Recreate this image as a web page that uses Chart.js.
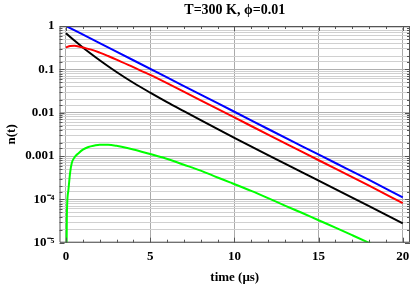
<!DOCTYPE html>
<html>
<head>
<meta charset="utf-8">
<script src="https://cdn.jsdelivr.net/npm/chart.js@4.4.0/dist/chart.umd.min.js"></script>
<style>
html,body{margin:0;padding:0;background:#fff;}
#wrap{width:417px;height:289px;position:relative;}
</style>
</head>
<body>
<div id="wrap"><canvas id="c" width="417" height="289"></canvas></div>
<script>
// ---- data ----
const title = "T=300 K, \u03D5=0.01";
const xTitle = "time (\u03BCs)";
const yTitle = "n(t)";
const xTicks = [0, 5, 10, 15, 20];
const yTickLabels = ["10\u207B\u2075", "10\u207B\u2074", "0.001", "0.01", "0.1", "1"]; // decades 1e-5 .. 1

const blueT = [0, 2, 4, 6, 8, 10, 12, 14, 16, 18, 20];
const blueN = [1, 0.402, 0.162, 0.065, 0.026, 0.0105, 0.0042, 0.0017, 0.00069, 0.00028, 0.000111];

const redT = [0, 0.25, 0.5, 0.75, 1, 1.5, 2, 2.5, 3, 4, 5, 6, 8, 10, 12, 14, 16, 18, 20];
const redN = [0.32, 0.345, 0.348, 0.338, 0.318, 0.285, 0.243, 0.203, 0.168, 0.112, 0.0745, 0.048, 0.0192, 0.0078, 0.0031, 0.00126, 0.00051, 0.000207, 0.000082];

const blackT = [0, 0.5, 1, 1.5, 2, 2.5, 3, 4, 5, 6, 7, 8, 10, 12, 14, 16, 18, 20];
const blackN = [0.68, 0.463, 0.32, 0.226, 0.162, 0.118, 0.087, 0.049, 0.029, 0.0175, 0.0108, 0.0067, 0.00263, 0.00105, 0.000425, 0.000172, 0.00007, 0.0000278];

const greenT = [0, 0.05, 0.14, 0.24, 0.34, 0.53, 0.73, 1, 1.33, 1.7, 2, 2.5, 3, 3.3, 4, 5, 5.88, 7, 8, 9, 9.74, 11, 12, 13, 14, 15, 16, 17, 18, 19, 20];
const greenN = [1e-7, 4e-5, 1.6e-4, 4e-4, 6.8e-4, 9.6e-4, 1.15e-3, 1.4e-3, 1.62e-3, 1.75e-3, 1.82e-3, 1.81e-3, 1.72e-3, 1.64e-3, 1.42e-3, 1.11e-3, 8.9e-4, 6.3e-4, 4.6e-4, 3.2e-4, 2.47e-4, 1.57e-4, 1.07e-4, 7.2e-5, 4.9e-5, 3.3e-5, 2.23e-5, 1.49e-5, 9.9e-6, 6.5e-6, 4.2e-6];

const pts = (t, n) => t.map((v, i) => ({x: v, y: n[i]}));

const FONT = "'Liberation Serif', 'Times New Roman', serif";

function isDecade(v) {
  const l = Math.log10(v);
  return Math.abs(l - Math.round(l)) < 1e-6;
}

const framePlugin = {
  id: 'frame',
  afterDatasetsDraw(chart) {
    const ctx = chart.ctx, a = chart.chartArea;
    const xs = chart.scales.x, ys = chart.scales.y;
    ctx.save();
    ctx.strokeStyle = '#555';
    ctx.lineWidth = 1;
    ctx.beginPath();
    ctx.rect(a.left + 0.5, a.top + 0.5, a.right - a.left - 1, a.bottom - a.top - 1);
    ctx.stroke();
    ctx.beginPath();
    for (let t = 0; t <= 20; t++) {
      const px = Math.round(xs.getPixelForValue(t)) + 0.5;
      const len = (t % 5 === 0) ? 5 : 3;
      ctx.moveTo(px, a.bottom); ctx.lineTo(px, a.bottom - len);
      ctx.moveTo(px, a.top); ctx.lineTo(px, a.top + len);
    }
    ys.ticks.forEach(tk => {
      const py = Math.round(ys.getPixelForValue(tk.value)) + 0.5;
      const len = isDecade(tk.value) ? 5 : 3;
      ctx.moveTo(a.left, py); ctx.lineTo(a.left + len, py);
      ctx.moveTo(a.right, py); ctx.lineTo(a.right - len, py);
    });
    ctx.stroke();
    ctx.restore();
  }
};

const ds = (label, data, color) => ({
  label, data, borderColor: color, backgroundColor: color,
  borderWidth: 2, pointRadius: 0, showLine: true, fill: false,
  cubicInterpolationMode: 'monotone'
});

new Chart(document.getElementById('c'), {
  type: 'scatter',
  data: {
    datasets: [
      ds('blue', pts(blueT, blueN), '#0000ff'),
      ds('red', pts(redT, redN), '#ff0000'),
      ds('black', pts(blackT, blackN), '#000000'),
      ds('green', pts(greenT, greenN), '#00ff00')
    ]
  },
  options: {
    responsive: false,
    animation: false,
    devicePixelRatio: 1,
    layout: {padding: {left: 0, right: 7, top: 0, bottom: 0}},
    plugins: {
      legend: {display: false},
      tooltip: {enabled: false},
      title: {
        display: true, text: title, color: '#000', fullSize: false,
        font: {family: FONT, size: 14, weight: 'bold', lineHeight: 1.2},
        padding: {top: 2, bottom: 7.2}
      }
    },
    scales: {
      x: {
        type: 'linear', min: -0.386, max: 20.43,
        afterBuildTicks: s => { s.ticks = xTicks.map(v => ({value: v})); },
        afterFit: s => { s.height = 46.3; },
        grid: {color: '#aaaaaa', lineWidth: 1, drawTicks: false},
        border: {display: false},
        ticks: {color: '#000', padding: 6, maxRotation: 0,
          font: {family: FONT, size: 13, weight: 'bold'}},
        title: {display: true, text: xTitle, color: '#000', padding: 4,
          font: {family: FONT, size: 13, weight: 'bold', lineHeight: 1.2}}
      },
      y: {
        type: 'logarithmic', min: 1e-5, max: 1,
        afterFit: s => { s.width = 59.5; },
        grid: {
          drawTicks: false, lineWidth: 1,
          color: c => (c.tick && isDecade(c.tick.value)) ? '#b0b0b0' : '#d0d0d0'
        },
        border: {display: false},
        ticks: {
          color: '#000', padding: 5, autoSkip: false,
          font: {family: FONT, size: 13, weight: 'bold'},
          callback: function(v) {
            if (!isDecade(v)) return '';
            const e = Math.round(Math.log10(v));
            return yTickLabels[e + 5];
          }
        },
        title: {display: true, text: yTitle, color: '#000', padding: 4,
          font: {family: FONT, size: 13, weight: 'bold', lineHeight: 1.2}}
      }
    }
  },
  plugins: [framePlugin]
});
</script>
</body>
</html>
